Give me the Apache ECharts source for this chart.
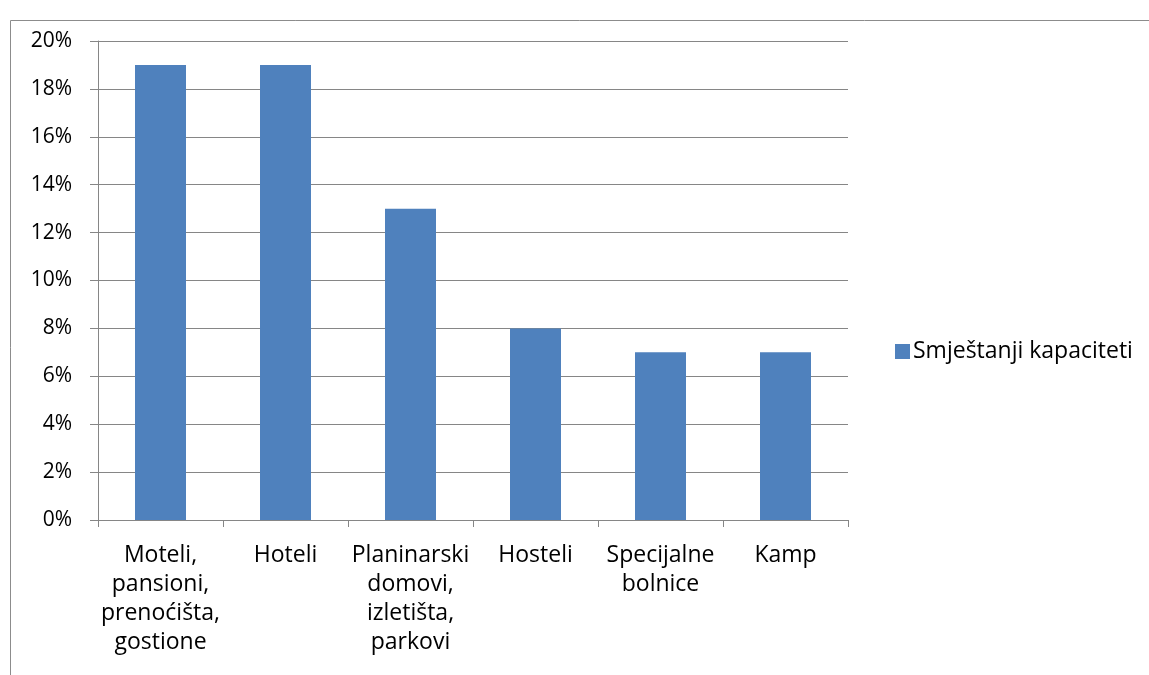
<!DOCTYPE html>
<html><head><meta charset="utf-8">
<script src="https://cdn.jsdelivr.net/npm/echarts@6/dist/echarts.min.js"></script>
<style>html,body{margin:0;padding:0;background:#fff}#c{width:1149px;height:675px}</style>
</head><body><div id="c"></div>
<script>
const categories = ['Moteli,\npansioni,\nprenoćišta,\ngostione', 'Hoteli', 'Planinarski\ndomovi,\nizletišta,\nparkovi', 'Hosteli', 'Specijalne\nbolnice', 'Kamp'];
const seriesName = 'Smještanji kapaciteti';
const values = [19, 19, 13, 8, 7, 7];
const yTicks = [0, 2, 4, 6, 8, 10, 12, 14, 16, 18, 20];

const font = '"Open Sans", sans-serif';
const chart = echarts.init(document.getElementById('c'));
chart.setOption({
  animation: false,
  graphic: [
    {type: 'line', shape: {x1: 10.5, y1: 20.5, x2: 1149, y2: 20.5}, style: {stroke: '#8c8c8c', lineWidth: 1}},
    {type: 'line', shape: {x1: 10.5, y1: 20.5, x2: 10.5, y2: 675}, style: {stroke: '#8c8c8c', lineWidth: 1}}
  ],
  grid: {left: 98, top: 41, right: 301, bottom: 155, containLabel: false},
  legend: {
    data: [seriesName], orient: 'vertical', left: 890, top: 335,
    itemWidth: 15, itemHeight: 15, itemGap: 5, icon: 'rect',
    textStyle: {fontFamily: font, fontSize: 23, lineHeight: 23, color: '#000', padding: [0, 0, 0, -2]}
  },
  xAxis: {
    type: 'category', data: categories,
    axisLine: {lineStyle: {color: '#868686'}},
    axisTick: {show: true, length: 7, lineStyle: {color: '#868686'}},
    axisLabel: {fontFamily: font, fontSize: 23, color: '#000', lineHeight: 29, margin: 21, interval: 0}
  },
  yAxis: {
    type: 'value', min: 0, max: 20, interval: 2,
    axisLine: {show: true, lineStyle: {color: '#868686'}},
    axisTick: {show: true, length: 8, lineStyle: {color: '#868686'}},
    splitLine: {lineStyle: {color: '#868686'}},
    axisLabel: {fontFamily: font, fontSize: 21, color: '#000', margin: 26, formatter: v => v + '%'}
  },
  series: [{
    name: seriesName, type: 'bar', data: values, barWidth: 51,
    itemStyle: {color: '#4F81BD'}
  }]
});
</script></body></html>
